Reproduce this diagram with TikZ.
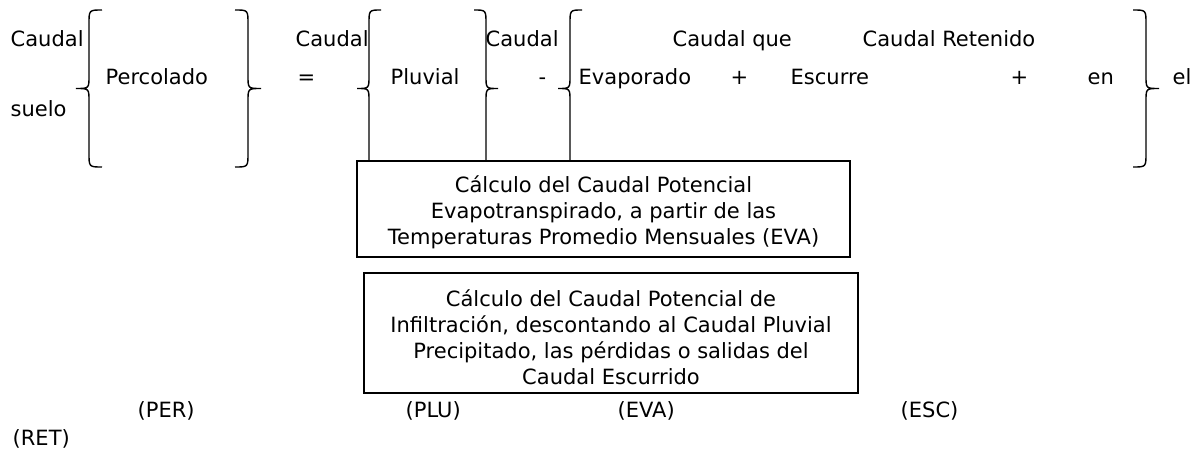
\documentclass[tikz,border=0pt]{standalone}
\usepackage{fontspec}
\setmainfont{DejaVu Sans}
\tikzset{txt/.style={anchor=base west,inner sep=0pt},
    calcbox/.style={draw,line width=0.8pt,inner sep=0pt},
    calctxt/.style={inner sep=0pt,align=center,font=\fontsize{10.5}{13}\selectfont}}
\begin{document}
\begin{tikzpicture}[x=0.5pt,y=-0.5pt,line width=0.7pt,every node/.append style={font=\fontsize{10.5}{12.8}\selectfont}]
        \useasboundingbox(0,0)rectangle(1199,454);
        % ecuacion del balance
        \node[txt](caudalPer)at(10,47){Caudal};\node[txt](percolado)at(105,85){Percolado};\node[txt](suelo)at(10,117){suelo};
        \node[txt](caudalPlu)at(295,47){Caudal};\node[txt](igual)at(297,85){=};\node[txt](pluvial)at(390,85){Pluvial};
        \node[txt](caudalEva)at(485,47){Caudal};\node[txt](menos)at(538,85){-};\node[txt](evaporado)at(578,85){Evaporado};
        \node[txt](caudalQue)at(672,47){Caudal que};\node[txt](masA)at(730,85){+};\node[txt](escurre)at(790,85){Escurre};
        \node[txt](caudalRet)at(862,47){Caudal Retenido};\node[txt](masB)at(1010,85){+};\node[txt](en)at(1087,85){en};
        \node[txt](el)at(1172,85){el};
        % cuadros de calculo
        \node[calcbox,minimum width=246.5pt,minimum height=48pt](evaBox)at(603.5,209){};
        \node[calctxt](evaTxt)at([yshift=-1.5pt]evaBox.center){C\'alculo del Caudal Potencial\\Evapotranspirado, a partir de las\\Temperaturas Promedio Mensuales (EVA)};
        \node[calcbox,minimum width=247pt,minimum height=60pt](infBox)at(611,333){};
        \node[calctxt](infTxt)at([yshift=-2pt]infBox.center){C\'alculo del Caudal Potencial de\\Infiltraci\'on, descontando al Caudal Pluvial\\Precipitado, las p\'erdidas o salidas del\\Caudal Escurrido};
        % llaves
        \foreach \xv/\s in{89/1,248/-1,1146/-1}
            \draw(\xv+13*\s,10)..controls(\xv,10)..(\xv,24)--(\xv,76)..controls(\xv,88.5)..(\xv-13*\s,88.5)..controls(\xv,88.5)..(\xv,101)--(\xv,153)..controls(\xv,167)..(\xv+13*\s,167);
        \foreach \xv/\s in{369/1,486/-1,570/1}
            \draw(\xv+12*\s,10)..controls(\xv,10)..(\xv,24)--(\xv,76)..controls(\xv,88.5)..(\xv-12*\s,88.5)..controls(\xv,88.5)..(\xv,101)--(\xv,0|-evaBox.north);
        % siglas
        \node[txt](per)at(137,417){(PER)};\node[txt](plu)at(405,417){(PLU)};\node[txt](eva)at(617,417){(EVA)};
        \node[txt](esc)at(900,417){(ESC)};\node[txt](ret)at(12,445){(RET)};
    \end{tikzpicture}
\end{document}
